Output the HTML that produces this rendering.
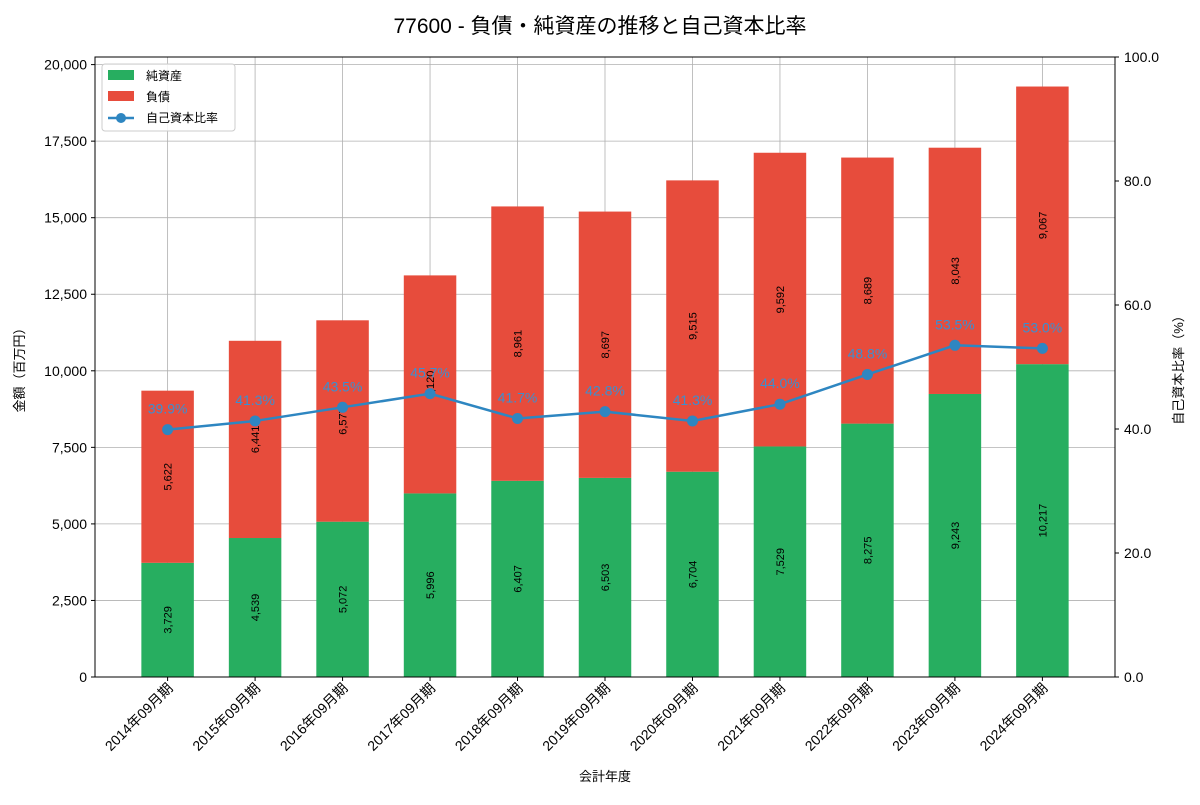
<!DOCTYPE html>
<html><head><meta charset="utf-8">
<style>
body{margin:0;background:#fff;font-family:"Liberation Sans","Noto Sans CJK JP",sans-serif;}
svg text{font-family:"Liberation Sans","Noto Sans CJK JP",sans-serif;}
</style></head>
<body>
<svg id="chart" width="1200" height="800" xmlns="http://www.w3.org/2000/svg">
<text x="600" y="33" text-anchor="middle" font-size="21" fill="#000">77600 - 負債・純資産の推移と自己資本比率</text>
<g id="grid"></g><g id="bars"></g><g id="line"></g><g id="axes"></g>
<text transform="translate(24,367) rotate(-90)" text-anchor="middle" font-size="13">金額（百万円）</text>
<text transform="translate(1183,367) rotate(-90)" text-anchor="middle" font-size="13">自己資本比率（%）</text>
<text x="605" y="781" text-anchor="middle" font-size="13">会計年度</text>
<g>
<rect x="102" y="64" width="133" height="67" fill="#fff" fill-opacity="0.85" stroke="#ccc" rx="3"/>
<rect x="108" y="70" width="26" height="10" fill="#27ae60"/>
<text x="146" y="80" font-size="12">純資産</text>
<rect x="108" y="91" width="26" height="10" fill="#e74c3c"/>
<text x="146" y="101" font-size="12">負債</text>
<line x1="108" y1="118" x2="134" y2="118" stroke="#2e86c1" stroke-width="2.5"/>
<circle cx="121" cy="118" r="5" fill="#2e86c1"/>
<text x="146" y="122" font-size="12">自己資本比率</text>
</g>
</svg>
<script>
const categories=["2014年09月期","2015年09月期","2016年09月期","2017年09月期","2018年09月期","2019年09月期","2020年09月期","2021年09月期","2022年09月期","2023年09月期","2024年09月期"];
const equity=[3729,4539,5072,5996,6407,6503,6704,7529,8275,9243,10217];
const liabilities=[5622,6441,6577,7120,8961,8697,9515,9592,8689,8043,9067];
const ratio=[39.9,41.3,43.5,45.7,41.7,42.8,41.3,44.0,48.8,53.5,53.0];
const yTicks=[0,2500,5000,7500,10000,12500,15000,17500,20000];
const y2Ticks=[0,20,40,60,80,100];

const L=95,R=1115,T=57,B=677;
const n=categories.length,bw=0.6;
const xmin=-bw/2-0.053*(n-1+bw)/1.06, xmax=n-1+bw/2+0.053*(n-1+bw)/1.06;
const x=i=>L+(i-xmin)/(xmax-xmin)*(R-L);
const maxTot=Math.max(...equity.map((e,i)=>e+liabilities[i]))*1.05;
const y=v=>B-v/maxTot*(B-T);
const y2=v=>B-v/100*(B-T);
const NS="http://www.w3.org/2000/svg";
function mk(p,tag,a){const e=document.createElementNS(NS,tag);for(const k in a)e.setAttribute(k,a[k]);document.getElementById(p).appendChild(e);return e;}
const fmt=v=>v.toLocaleString('en-US');
const pxw=(x(1)-x(0))*bw;

yTicks.forEach(t=>{const l=mk('grid','line',{x1:L,x2:R,y1:y(t),y2:y(t),stroke:'#b0b0b0','stroke-width':0.8});

});
categories.forEach((c,i)=>{const l=mk('grid','line',{x1:x(i),x2:x(i),y1:T,y2:B,stroke:'#b0b0b0','stroke-width':0.8});

});

categories.forEach((c,i)=>{
 const e=mk('bars','rect',{x:x(i)-pxw/2,y:y(equity[i]),width:pxw,height:B-y(equity[i]),fill:'#27ae60'});
 
 
 const tot=equity[i]+liabilities[i];
 const r=mk('bars','rect',{x:x(i)-pxw/2,y:y(tot),width:pxw,height:y(equity[i])-y(tot),fill:'#e74c3c'});
 
 
 const cy1=y(equity[i]/2),cy2=y(equity[i]+liabilities[i]/2);
 const t1=mk('bars','text',{transform:`translate(${x(i)+4},${cy1}) rotate(-90)`,'text-anchor':'middle','font-size':11});
 t1.textContent=fmt(equity[i]);
 
 
 const t2=mk('bars','text',{transform:`translate(${x(i)+4},${cy2}) rotate(-90)`,'text-anchor':'middle','font-size':11});
 t2.textContent=fmt(liabilities[i]);
 
 
});

const pl=mk('line','polyline',{points:ratio.map((v,i)=>x(i)+','+y2(v)).join(' '),fill:'none',stroke:'#2e86c1','stroke-width':2.5});


ratio.forEach((v,i)=>{
 const c=mk('line','circle',{cx:x(i),cy:y2(v),r:5.5,fill:'#2e86c1'});
 
 
 const t=mk('line','text',{x:x(i),y:y2(v)-16,'text-anchor':'middle','font-size':14,fill:'#3b8fd0'});
 t.textContent=v.toFixed(1)+'%';
 
 
});

const fr=mk('axes','rect',{x:L,y:T,width:R-L,height:B-T,fill:'none',stroke:'#000','stroke-width':1});


yTicks.forEach(t=>{mk('axes','line',{x1:L-4,x2:L,y1:y(t),y2:y(t),stroke:'#000'});
 const tx=mk('axes','text',{x:L-8,y:y(t)+5,'text-anchor':'end','font-size':14});
 tx.textContent=fmt(t);
 
 });
y2Ticks.forEach(t=>{mk('axes','line',{x1:R,x2:R+4,y1:y2(t),y2:y2(t),stroke:'#000'});
 const tx=mk('axes','text',{x:R+9,y:y2(t)+5,'font-size':14});
 tx.textContent=t.toFixed(1);
 
 });
categories.forEach((c,i)=>{mk('axes','line',{x1:x(i),x2:x(i),y1:B,y2:B+4,stroke:'#000'});
 const tx=mk('axes','text',{transform:`translate(${x(i)+6},${B+12}) rotate(-45)`,'text-anchor':'end','font-size':14});
 tx.textContent=c;
 
 });
</script>
</body></html>
